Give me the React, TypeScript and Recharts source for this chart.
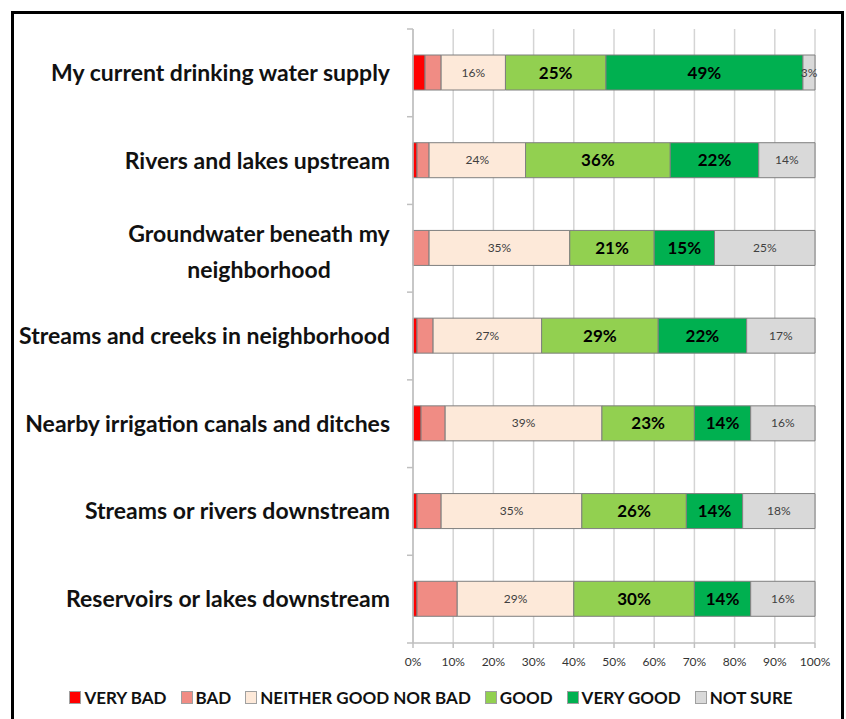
import { BarChart, Bar, XAxis, YAxis, CartesianGrid, LabelList } from 'recharts'

const categories = [
  'My current drinking water supply',
  'Rivers and lakes upstream',
  'Groundwater beneath my\nneighborhood',
  'Streams and creeks in neighborhood',
  'Nearby irrigation canals and ditches',
  'Streams or rivers downstream',
  'Reservoirs or lakes downstream',
]

const veryBad = [3, 1, 0, 1, 2, 1, 1]
const bad = [4, 3, 4, 4, 6, 6, 10]
const neither = [16, 24, 35, 27, 39, 35, 29]
const good = [25, 36, 21, 29, 23, 26, 30]
const veryGood = [49, 22, 15, 22, 14, 14, 14]
const notSure = [3, 14, 25, 17, 16, 18, 16]

const xTicks = [0, 10, 20, 30, 40, 50, 60, 70, 80, 90, 100]

const series = [
  { key: 'veryBad', name: 'VERY BAD', color: '#FF0000', label: null },
  { key: 'bad', name: 'BAD', color: '#F08C84', label: null },
  { key: 'neither', name: 'NEITHER GOOD NOR BAD', color: '#FDE9D9', label: 'small' },
  { key: 'good', name: 'GOOD', color: '#92D050', label: 'big' },
  { key: 'veryGood', name: 'VERY GOOD', color: '#00B050', label: 'big' },
  { key: 'notSure', name: 'NOT SURE', color: '#D9D9D9', label: 'small' },
]

const data = categories.map((name, i) => ({
  name,
  veryBad: veryBad[i],
  bad: bad[i],
  neither: neither[i],
  good: good[i],
  veryGood: veryGood[i],
  notSure: notSure[i],
}))

const FONT = "Lato, 'Open Sans', sans-serif"

function CategoryTick({ x, y, payload, index }: any) {
  const lines = String(payload.value).split('\n')
  const half = payload.offset || 44
  const ax = x + 17
  return (
    <g>
      <line x1={ax} x2={ax + 6} y1={y - half} y2={y - half} stroke="#BFBFBF" strokeWidth={1.5} />
      {index === categories.length - 1 && (
        <line x1={ax} x2={ax + 6} y1={y + half} y2={y + half} stroke="#BFBFBF" strokeWidth={1.5} />
      )}
      {lines.length === 1 ? (
        <text x={x} y={y + 8} textAnchor="end" fontFamily={FONT} fontWeight="bold" fontSize={23} fill="#111">
          {lines[0]}
        </text>
      ) : (
        <text textAnchor="middle" fontFamily={FONT} fontWeight="bold" fontSize={23} fill="#111">
          <tspan x={x - 131} y={y - 6}>{lines[0]}</tspan>
          <tspan x={x - 131} y={y + 30}>{lines[1]}</tspan>
        </text>
      )}
    </g>
  )
}

function makeLabel(kind: string) {
  return (p: any) => {
    const { x, y, width, height, value } = p
    if (!value) return null
    const big = kind === 'big'
    return (
      <text
        x={x + width / 2}
        y={y + height / 2}
        dy={big ? 6 : 4}
        textAnchor="middle"
        fontFamily={FONT}
        fontWeight={big ? 'bold' : 'normal'}
        fontSize={big ? 17 : 12}
        fill={big ? '#000' : '#404040'}
      >
        {value}%
      </text>
    )
  }
}

export default function App() {
  return (
    <div style={{ position: 'absolute', left: 0, top: 0, width: 846, height: 719, overflow: 'hidden', background: '#fff' }}>
      <div
        style={{
          position: 'absolute',
          left: 11,
          top: 11,
          width: 833,
          height: 730,
          border: '3px solid #000',
          boxSizing: 'border-box',
        }}
      />
      <div style={{ position: 'absolute', left: 0, top: 0 }}>
        <BarChart
          width={846}
          height={719}
          data={data}
          layout="vertical"
          margin={{ top: 29, right: 31, bottom: 46, left: 0 }}
          barSize={35}
        >
          <CartesianGrid horizontal={false} stroke="#D4D4D4" strokeWidth={1.5} />
          <XAxis
            type="number"
            domain={[0, 100]}
            ticks={xTicks}
            tickFormatter={(v) => `${v}%`}
            interval={0}
            axisLine={{ stroke: '#BFBFBF', strokeWidth: 1.5 }}
            tickLine={{ stroke: '#BFBFBF', strokeWidth: 1.5 }}
            tickSize={5}
            tickMargin={9}
            tick={{ fontSize: 12, fill: '#333', fontFamily: FONT }}
          />
          <YAxis
            type="category"
            dataKey="name"
            width={413}
            interval={0}
            axisLine={{ stroke: '#BFBFBF', strokeWidth: 1.5 }}
            tickLine={false}
            tickSize={6}
            tickMargin={17}
            tick={<CategoryTick />}
          />
          {series.map((s) => (
            <Bar
              key={s.key}
              dataKey={s.key}
              name={s.name}
              stackId="a"
              fill={s.color}
              stroke="#7F7F7F"
              strokeWidth={1}
              isAnimationActive={false}
            >
              {s.label && <LabelList dataKey={s.key} content={makeLabel(s.label)} />}
            </Bar>
          ))}
        </BarChart>
      </div>
      <div
        style={{
          position: 'absolute',
          left: 8,
          width: 846,
          top: 687,
          display: 'flex',
          justifyContent: 'center',
          alignItems: 'center',
          fontFamily: FONT,
          fontWeight: 'bold',
          fontSize: 17,
          color: '#111',
        }}
      >
        {series.map((s, i) => (
          <div key={s.key} style={{ display: 'flex', alignItems: 'center', marginLeft: i === 0 ? 0 : 14 }}>
            <span
              style={{
                display: 'inline-block',
                width: 10,
                height: 11,
                background: s.color,
                border: '1px solid #A0A0A0',
                marginRight: 3,
              }}
            />
            <span>{s.name}</span>
          </div>
        ))}
      </div>
    </div>
  )
}
